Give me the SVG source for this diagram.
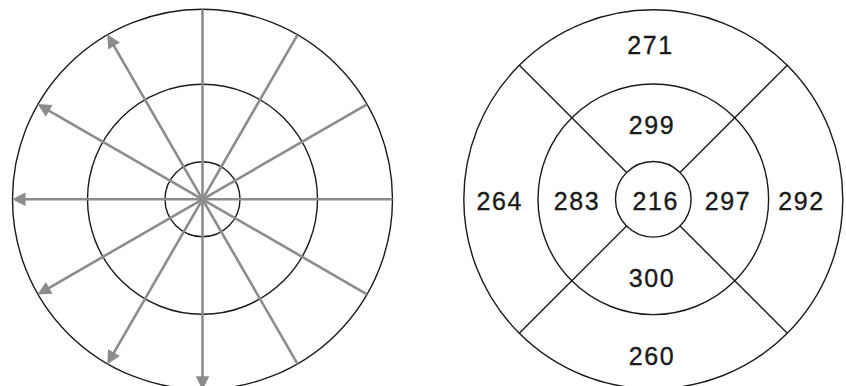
<svg xmlns="http://www.w3.org/2000/svg" width="846" height="386" viewBox="0 0 846 386">
<style>
.ring{fill:none;stroke:#1a1a1a;stroke-width:1.4}
.spoke{stroke:#8c8c8c;stroke-width:2.6;fill:none}
.div{stroke:#1a1a1a;stroke-width:1.4;fill:none}
.lbl{font-family:"Liberation Sans",Arial,sans-serif;font-size:25px;fill:#1a1a1a;stroke:#1a1a1a;stroke-width:0.35;text-anchor:middle;letter-spacing:1.6px}
</style>
<defs>
<marker id="ah" markerUnits="userSpaceOnUse" markerWidth="14" markerHeight="14" refX="7" refY="0" viewBox="0 -7 14 14" orient="auto" overflow="visible">
<path d="M0,-6.8 L13.5,0 L0,6.8 z" fill="#8c8c8c"/>
</marker>
</defs>
<rect width="846" height="386" fill="#ffffff"/>
<g id="left-diagram">
<g id="left-rings">
<circle class="ring" cx="202.5" cy="199.3" r="190"/>
<circle class="ring" cx="202.5" cy="199.3" r="115"/>
<circle class="ring" cx="202.5" cy="199.3" r="37.5"/>
</g>
<g id="left-spokes">
<line class="spoke" x1="202.5" y1="199.3" x2="392.5" y2="199.3"/>
<line class="spoke" x1="202.5" y1="199.3" x2="367" y2="104.3"/>
<line class="spoke" x1="202.5" y1="199.3" x2="297.5" y2="34.8"/>
<line class="spoke" x1="202.5" y1="199.3" x2="202.5" y2="9.3"/>
<line class="spoke" x1="202.5" y1="199.3" x2="297.5" y2="363.8"/>
<line class="spoke" x1="202.5" y1="199.3" x2="367" y2="294.3"/>
<line class="spoke" x1="202.5" y1="199.3" x2="110.5" y2="39.95" marker-end="url(#ah)"/>
<line class="spoke" x1="202.5" y1="199.3" x2="43.15" y2="107.3" marker-end="url(#ah)"/>
<line class="spoke" x1="202.5" y1="199.3" x2="18.5" y2="199.3" marker-end="url(#ah)"/>
<line class="spoke" x1="202.5" y1="199.3" x2="43.15" y2="291.3" marker-end="url(#ah)"/>
<line class="spoke" x1="202.5" y1="199.3" x2="110.5" y2="358.65" marker-end="url(#ah)"/>
<line class="spoke" x1="202.5" y1="199.3" x2="202.5" y2="383.3" marker-end="url(#ah)"/>
</g>
</g>
<g id="right-diagram">
<g id="right-rings">
<circle class="ring" cx="653.3" cy="199.3" r="189.5"/>
<circle class="ring" cx="653.3" cy="199.3" r="115.3"/>
<circle class="ring" cx="653.3" cy="199.3" r="37.8"/>
</g>
<g id="right-dividers">
<line class="div" x1="626.6" y1="172.6" x2="519.3" y2="65.3"/>
<line class="div" x1="680" y1="172.6" x2="787.3" y2="65.3"/>
<line class="div" x1="626.6" y1="226" x2="519.3" y2="333.3"/>
<line class="div" x1="680" y1="226" x2="787.3" y2="333.3"/>
</g>
<g id="seg-271"><text class="lbl" x="650.5" y="53.5">271</text></g>
<g id="seg-299"><text class="lbl" x="652" y="133.5">299</text></g>
<g id="seg-264"><text class="lbl" x="499.8" y="210">264</text></g>
<g id="seg-283"><text class="lbl" x="577.1" y="210">283</text></g>
<g id="seg-216"><text class="lbl" x="655.8" y="210">216</text></g>
<g id="seg-297"><text class="lbl" x="728" y="210">297</text></g>
<g id="seg-292"><text class="lbl" x="801.6" y="210">292</text></g>
<g id="seg-300"><text class="lbl" x="652" y="287">300</text></g>
<g id="seg-260"><text class="lbl" x="652" y="365">260</text></g>
</g>
</svg>
